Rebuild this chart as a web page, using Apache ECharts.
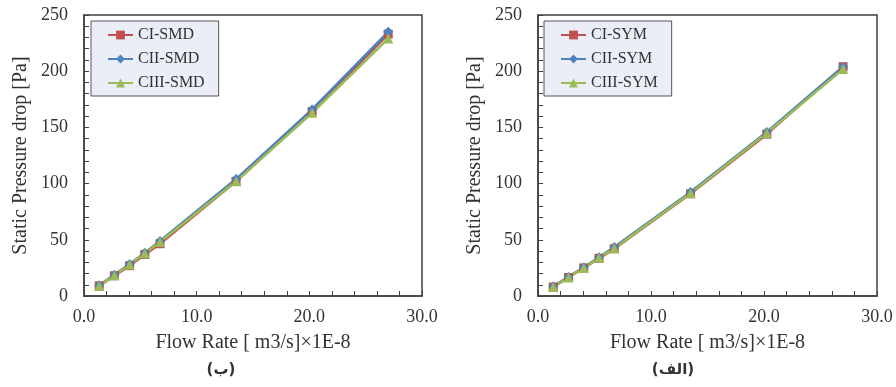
<!DOCTYPE html>
<html><head><meta charset="utf-8">
<style>html,body{margin:0;padding:0;background:#fff}#c{width:896px;height:387px}</style>
<script src="https://cdn.jsdelivr.net/npm/echarts@6/dist/echarts.min.js"></script>
</head><body><div id="c"></div>
<script>
const flowRate = [1.35, 2.7, 4.05, 5.4, 6.75, 13.5, 20.25, 27.0];
const ciSMD   = [9, 18, 27, 37, 46.5, 102, 164, 233];
const ciiSMD  = [9.5, 19, 28.5, 38.5, 49, 104, 166, 235];
const ciiiSMD = [9, 18.5, 28, 38, 48, 102, 163, 229];
const ciSYM   = [8, 16.5, 25, 33.5, 42, 91, 144, 204];
const ciiSYM  = [8.5, 17, 25.5, 34.5, 43.5, 92.5, 146, 204];
const ciiiSYM = [8, 16.5, 25, 34, 42.5, 91.5, 145, 202];
const namesSMD = ['CI-SMD', 'CII-SMD', 'CIII-SMD'];
const namesSYM = ['CI-SYM', 'CII-SYM', 'CIII-SYM'];
const xTitle = 'Flow Rate [ m3/s]×1E-8';
const yTitle = 'Static Pressure drop [Pa]';
const panelLabels = ['(ب)', '(الف)'];

const colors = ['#C0504D', '#4F81BD', '#9BBB59'];
const symbols = ['rect', 'diamond', 'triangle'];
const symSizes = [9, 10, 10];
const serif = '"Liberation Serif", "DejaVu Serif", serif';
const txt = '#333333';
const frame = '#404040';

function xAx(gi) {
  return {
    type: 'value', gridIndex: gi, min: 0, max: 30, interval: 10,
    name: xTitle, nameLocation: 'middle', nameGap: 37,
    nameTextStyle: {fontFamily: serif, fontSize: 20, color: txt},
    axisLine: {show: true, lineStyle: {color: frame, width: 1.5}},
    axisTick: {show: true, inside: true, length: 5, lineStyle: {color: frame}},
    minorTick: {show: true, splitNumber: 5, length: 5, lineStyle: {color: frame}},
    axisLabel: {fontFamily: serif, fontSize: 18, color: txt, margin: 12,
      formatter: v => v.toFixed(1)},
    splitLine: {show: false}
  };
}
function yAx(gi) {
  return {
    type: 'value', gridIndex: gi, min: 0, max: 250, interval: 50,
    name: yTitle, nameLocation: 'middle', nameGap: 53,
    nameTextStyle: {fontFamily: serif, fontSize: 20, color: txt},
    axisLine: {show: true, lineStyle: {color: frame, width: 1.5}},
    axisTick: {show: true, inside: true, length: 5, lineStyle: {color: frame}},
    minorTick: {show: true, splitNumber: 5, length: 5, lineStyle: {color: frame}},
    axisLabel: {fontFamily: serif, fontSize: 18, color: txt, margin: 16},
    splitLine: {show: false}
  };
}
function mk(name, data, i, gi) {
  return {
    name: name, type: 'line', xAxisIndex: gi, yAxisIndex: gi,
    data: flowRate.map((x, k) => [x, data[k]]),
    symbol: symbols[i], symbolSize: symSizes[i],
    lineStyle: {color: colors[i], width: 2.6},
    itemStyle: {color: colors[i]},
    animation: false
  };
}
function lg(names, left) {
  return {
    data: names, orient: 'vertical', left: left, top: 21,
    itemWidth: 25, itemHeight: 11, itemGap: 8,
    padding: [6, 14, 5, 16],
    backgroundColor: '#EBEEF6', borderColor: '#555', borderWidth: 1,
    textStyle: {fontFamily: serif, fontSize: 16, color: txt}
  };
}
const chart = echarts.init(document.getElementById('c'));
const arabic = {fontFamily: '"DejaVu Sans", "Noto Sans", sans-serif', fontSize: 15, fontWeight: 'bold', color: txt};
chart.setOption({
  backgroundColor: '#fff',
  animation: false,
  grid: [
    {left: 84, top: 15, width: 338, height: 281, show: true, borderColor: frame, borderWidth: 1.5},
    {left: 538, top: 15, width: 339, height: 281, show: true, borderColor: frame, borderWidth: 1.5}
  ],
  xAxis: [xAx(0), xAx(1)],
  yAxis: [yAx(0), yAx(1)],
  legend: [lg(namesSMD, 91), lg(namesSYM, 544)],
  title: [
    {text: panelLabels[0], left: 221, top: 363, textAlign: 'center', padding: 0, textStyle: arabic},
    {text: panelLabels[1], left: 673, top: 363, textAlign: 'center', padding: 0, textStyle: arabic}
  ],
  series: [
    mk(namesSMD[0], ciSMD, 0, 0), mk(namesSMD[1], ciiSMD, 1, 0), mk(namesSMD[2], ciiiSMD, 2, 0),
    mk(namesSYM[0], ciSYM, 0, 1), mk(namesSYM[1], ciiSYM, 1, 1), mk(namesSYM[2], ciiiSYM, 2, 1)
  ]
});
</script></body></html>
